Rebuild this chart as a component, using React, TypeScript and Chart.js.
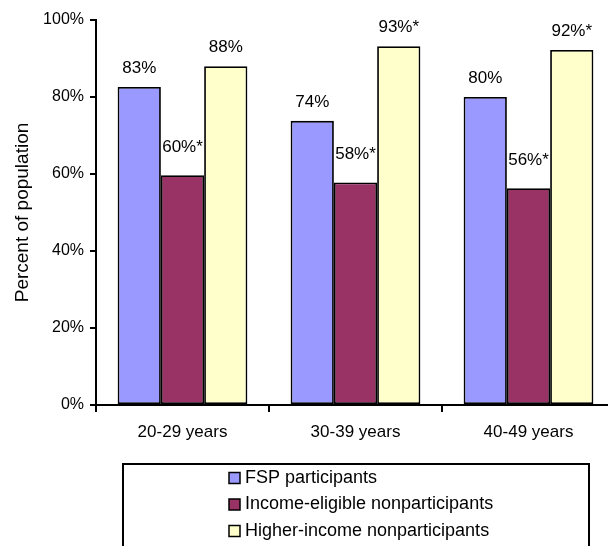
import React, { useEffect, useRef } from "react";
import { Chart, registerables } from "chart.js";

Chart.register(...registerables);

const categories = ["20-29 years", "30-39 years", "40-49 years"];
const seriesNames = [
  "FSP participants",
  "Income-eligible nonparticipants",
  "Higher-income nonparticipants",
];
const fspValues = [82.6, 73.8, 80];
const eligibleValues = [59.7, 57.8, 56.3];
const higherValues = [88, 93.2, 92.2];
const fspLabels = ["83%", "74%", "80%"];
const eligibleLabels = ["60%*", "58%*", "56%*"];
const higherLabels = ["88%", "93%*", "92%*"];
const yTicks = [0, 20, 40, 60, 80, 100];
const yTitle = "Percent of population";

const FONT = "'Liberation Sans', Arial, sans-serif";

const labelOffsets = [19, 28, 19];

const valueLabelPlugin = {
  id: "valueLabels",
  afterDatasetsDraw(chart: any) {
    const ctx = chart.ctx;
    ctx.save();
    ctx.font = `17px ${FONT}`;
    ctx.fillStyle = "#000";
    ctx.textAlign = "center";
    ctx.textBaseline = "middle";
    chart.data.datasets.forEach((ds: any, di: number) => {
      const meta = chart.getDatasetMeta(di);
      meta.data.forEach((bar: any, i: number) => {
        ctx.fillText(ds.valueLabels[i], bar.x, bar.y - labelOffsets[di]);
      });
    });
    ctx.restore();
  },
};

const boxLegendPlugin = {
  id: "boxLegend",
  afterDraw(chart: any) {
    const ctx = chart.ctx;
    ctx.save();
    ctx.strokeStyle = "#000";
    ctx.lineWidth = 2;
    ctx.strokeRect(123, 464, 466, 100);
    ctx.font = `18px ${FONT}`;
    ctx.textBaseline = "middle";
    ctx.textAlign = "left";
    chart.data.datasets.forEach((ds: any, di: number) => {
      const cy = 478 + di * 26.5;
      ctx.fillStyle = ds.backgroundColor;
      ctx.fillRect(229, cy - 5.5, 11, 11);
      ctx.lineWidth = 1.5;
      ctx.strokeStyle = "#000";
      ctx.strokeRect(229, cy - 5.5, 11, 11);
      ctx.fillStyle = "#000";
      ctx.fillText(ds.label, 245, cy);
    });
    ctx.restore();
  },
};

export default function App() {
  const ref = useRef<HTMLCanvasElement>(null);
  useEffect(() => {
    if (!ref.current) return;
    const mk = (label: string, data: number[], color: string, labels: string[]) => ({
      label,
      data,
      backgroundColor: color,
      borderColor: "#000",
      borderWidth: 1.8,
      borderSkipped: false as any,
      valueLabels: labels,
    });
    const chart = new Chart(ref.current, {
      type: "bar",
      data: {
        labels: categories,
        datasets: [
          mk(seriesNames[0], fspValues, "#9999FF", fspLabels),
          mk(seriesNames[1], eligibleValues, "#993366", eligibleLabels),
          mk(seriesNames[2], higherValues, "#FFFFCC", higherLabels),
        ] as any,
      },
      options: {
        animation: false,
        responsive: false,
        layout: { padding: { top: 20, right: 1, left: 0, bottom: 0 } },
        plugins: {
          legend: { display: false },
          tooltip: { enabled: false },
        },
        datasets: {
          bar: { categoryPercentage: 0.75, barPercentage: 1 },
        },
        scales: {
          x: {
            offset: true,
            grid: {
              offset: true,
              drawOnChartArea: false,
              drawTicks: true,
              tickLength: 7,
              color: "#000",
              lineWidth: 2,
            },
            border: { color: "#000", width: 2 },
            ticks: {
              color: "#000",
              font: { family: FONT, size: 17 },
              padding: 10,
            },
            afterFit(scale: any) {
              scale.height = 141;
            },
          },
          y: {
            min: 0,
            max: 100,
            afterBuildTicks(scale: any) {
              scale.ticks = yTicks.map((v) => ({ value: v }));
            },
            grid: {
              drawOnChartArea: false,
              drawTicks: true,
              tickLength: 6,
              color: "#000",
              lineWidth: 2,
            },
            border: { color: "#000", width: 2 },
            ticks: {
              color: "#000",
              font: { family: FONT, size: 16 },
              padding: 6,
              callback: (v: any) => `${v}%`,
            },
            title: {
              display: true,
              text: yTitle,
              color: "#000",
              font: { family: FONT, size: 19 },
              padding: { top: 11, bottom: 0 },
            },
            afterFit(scale: any) {
              scale.width = 96;
            },
          },
        },
      },
      plugins: [valueLabelPlugin, boxLegendPlugin],
    });
    return () => chart.destroy();
  }, []);
  return (
    <div
      style={{
        position: "absolute",
        left: 0,
        top: 0,
        width: 608,
        height: 546,
        overflow: "hidden",
        background: "#fff",
      }}
    >
      <canvas ref={ref} width={616} height={546} style={{ display: "block" }} />
    </div>
  );
}
